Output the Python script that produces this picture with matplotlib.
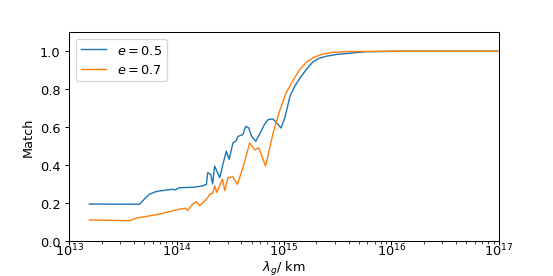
import matplotlib
matplotlib.use("Agg")
import matplotlib.pyplot as plt
import numpy as np

# log10(lambda_g / km) and match values
logx_05 = [13.187, 13.654, 13.70, 13.748, 13.80, 13.841, 13.963, 13.98, 14.028, 14.168,
           14.243, 14.278, 14.29, 14.318, 14.336, 14.355, 14.402, 14.43, 14.464,
           14.489, 14.526, 14.551, 14.573, 14.617, 14.645, 14.673, 14.70, 14.738,
           14.776, 14.82, 14.853, 14.897, 14.944, 14.972, 15.009, 15.056, 15.10,
           15.149, 15.21, 15.271, 15.33, 15.399, 15.49, 15.586, 15.757, 16.084, 17.0]
match_05 = [0.194, 0.193, 0.22, 0.246, 0.258, 0.263, 0.272, 0.268, 0.28, 0.283,
            0.29, 0.298, 0.36, 0.35, 0.30, 0.394, 0.333, 0.40, 0.473,
            0.43, 0.517, 0.525, 0.551, 0.56, 0.604, 0.595, 0.55, 0.525,
            0.565, 0.615, 0.639, 0.643, 0.615, 0.595, 0.65, 0.761, 0.815,
            0.857, 0.905, 0.944, 0.963, 0.974, 0.983, 0.988, 0.997, 1.0, 1.0]

logx_07 = [13.187, 13.56, 13.623, 13.841, 14.028, 14.084, 14.103, 14.15, 14.187,
           14.215, 14.278, 14.318, 14.336, 14.355, 14.374, 14.427, 14.449, 14.479,
           14.523, 14.567, 14.62, 14.682, 14.729, 14.766, 14.829, 14.9, 14.963,
           15.02, 15.087, 15.15, 15.212, 15.28, 15.364, 15.46, 15.57, 16.084, 17.0]
match_07 = [0.11, 0.106, 0.119, 0.141, 0.167, 0.172, 0.16, 0.194, 0.206,
            0.185, 0.22, 0.25, 0.25, 0.29, 0.255, 0.325, 0.265, 0.333,
            0.338, 0.298, 0.39, 0.517, 0.48, 0.49, 0.394, 0.57, 0.69,
            0.78, 0.848, 0.905, 0.944, 0.968, 0.985, 0.994, 0.998, 1.0, 1.0]

fig, ax = plt.subplots(figsize=(6, 3), dpi=92.33)
fig.subplots_adjust(left=0.125, right=0.9, top=0.88, bottom=0.127)

ax.plot(10 ** np.array(logx_05), match_05, lw=1.1, label=r'$e=0.5$')
ax.plot(10 ** np.array(logx_07), match_07, lw=1.1, label=r'$e=0.7$')

ax.set_xscale('log')
ax.set_xlim(1e13, 1e17)
ax.set_ylim(0, 1.1)
ax.tick_params(axis='x', which='major', pad=-2.5)
ax.set_xlabel(r'$\lambda_g$/ km', labelpad=0)
ax.set_ylabel('Match')
ax.legend(loc='upper left')

fig.savefig('out.png', dpi=92.33)
